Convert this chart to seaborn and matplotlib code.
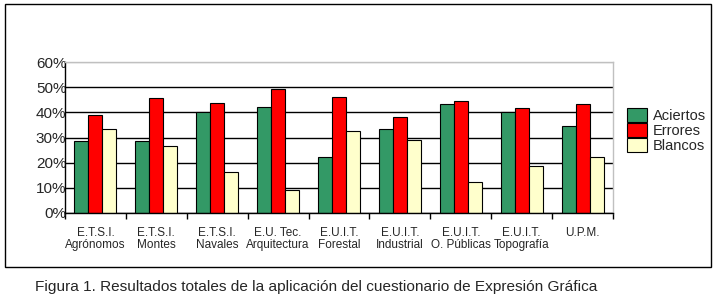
import pandas as pd
import matplotlib
matplotlib.use('Agg')
import matplotlib.pyplot as plt
from matplotlib.patches import Rectangle
from matplotlib.ticker import FixedLocator
import seaborn as sns

# Values (percent)
schools = ['E.T.S.I.\nAgrónomos', 'E.T.S.I.\nMontes', 'E.T.S.I.\nNavales',
           'E.U. Tec.\nArquitectura', 'E.U.I.T.\nForestal', 'E.U.I.T.\nIndustrial',
           'E.U.I.T.\nO. Públicas', 'E.U.I.T.\nTopografía', 'U.P.M.']
aciertos = [28.6, 28.6, 40.0, 42.0, 22.2, 33.2, 43.5, 40.0, 34.4]
errores = [38.8, 45.5, 43.9, 49.2, 45.9, 38.0, 44.5, 41.6, 43.5]
blancos = [33.2, 26.5, 16.2, 9.1, 32.6, 29.0, 12.3, 18.6, 22.2]
series = ['Aciertos', 'Errores', 'Blancos']
colors = ['#339966', '#ff0000', '#ffffcc']
yticks = [0, 10, 20, 30, 40, 50, 60]

df = pd.DataFrame({'Escuela': schools, 'Aciertos': aciertos,
                   'Errores': errores, 'Blancos': blancos})
df = df.melt(id_vars='Escuela', var_name='Serie', value_name='Porcentaje')

sns.set_style('white')
plt.rcParams['font.family'] = ['Liberation Sans', 'DejaVu Sans']

fig = plt.figure(figsize=(7.17, 3.07), dpi=100)
ax = fig.add_axes([65/717, 1-213/307, (613-65)/717, (213-62)/307])

sns.barplot(data=df, x='Escuela', y='Porcentaje', hue='Serie', hue_order=series,
            palette=colors, width=0.69, edgecolor='black', linewidth=0.8,
            saturation=1, ax=ax)

ax.set_xlim(-0.5, len(schools) - 0.5)
ax.set_ylim(0, 60)
ax.set_yticks(yticks)
ax.set_yticklabels([f'{v}%' for v in yticks], fontsize=11)
ax.tick_params(axis='y', length=0, pad=-1)
ax.set_xlabel('')
ax.set_ylabel('')

# category labels centred, tick marks at the category boundaries
ax.set_xticks(range(len(schools)))
ax.set_xticklabels(schools, fontsize=8.5, linespacing=1.05)
ax.tick_params(axis='x', which='major', length=0, pad=10)
ax.xaxis.set_minor_locator(FixedLocator([i - 0.5 for i in range(len(schools) + 1)]))
ax.tick_params(axis='x', which='minor', length=4, width=1, color='black', bottom=True)

ax.yaxis.grid(True, color='black', linewidth=1)
ax.set_axisbelow(True)
ax.get_ygridlines()[-1].set_color('#c0c0c0')
for side in ['left', 'bottom']:
    ax.spines[side].set_color('black')
    ax.spines[side].set_linewidth(1)
for side in ['top', 'right']:
    ax.spines[side].set_color('#c0c0c0')
    ax.spines[side].set_linewidth(1)

handles, labels = ax.get_legend_handles_labels()
ax.get_legend().remove()
fig.legend(handles, labels, loc='upper left', bbox_to_anchor=(627/717, 1-108/307),
           frameon=False, fontsize=10.5, handlelength=1.4, handleheight=1.1,
           handletextpad=0.4, labelspacing=0, borderpad=0, borderaxespad=0)

# outer frame around the chart
fig.patches.append(Rectangle((5/717, 1-267/307), (711-5)/717, (267-4)/307,
                             transform=fig.transFigure, fill=False,
                             edgecolor='black', linewidth=1))

fig.text(35/717, 1-287/307,
         'Figura 1. Resultados totales de la aplicación del cuestionario de Expresión Gráfica',
         fontsize=11.1, va='center', ha='left')

fig.savefig('out.png', dpi=100)
